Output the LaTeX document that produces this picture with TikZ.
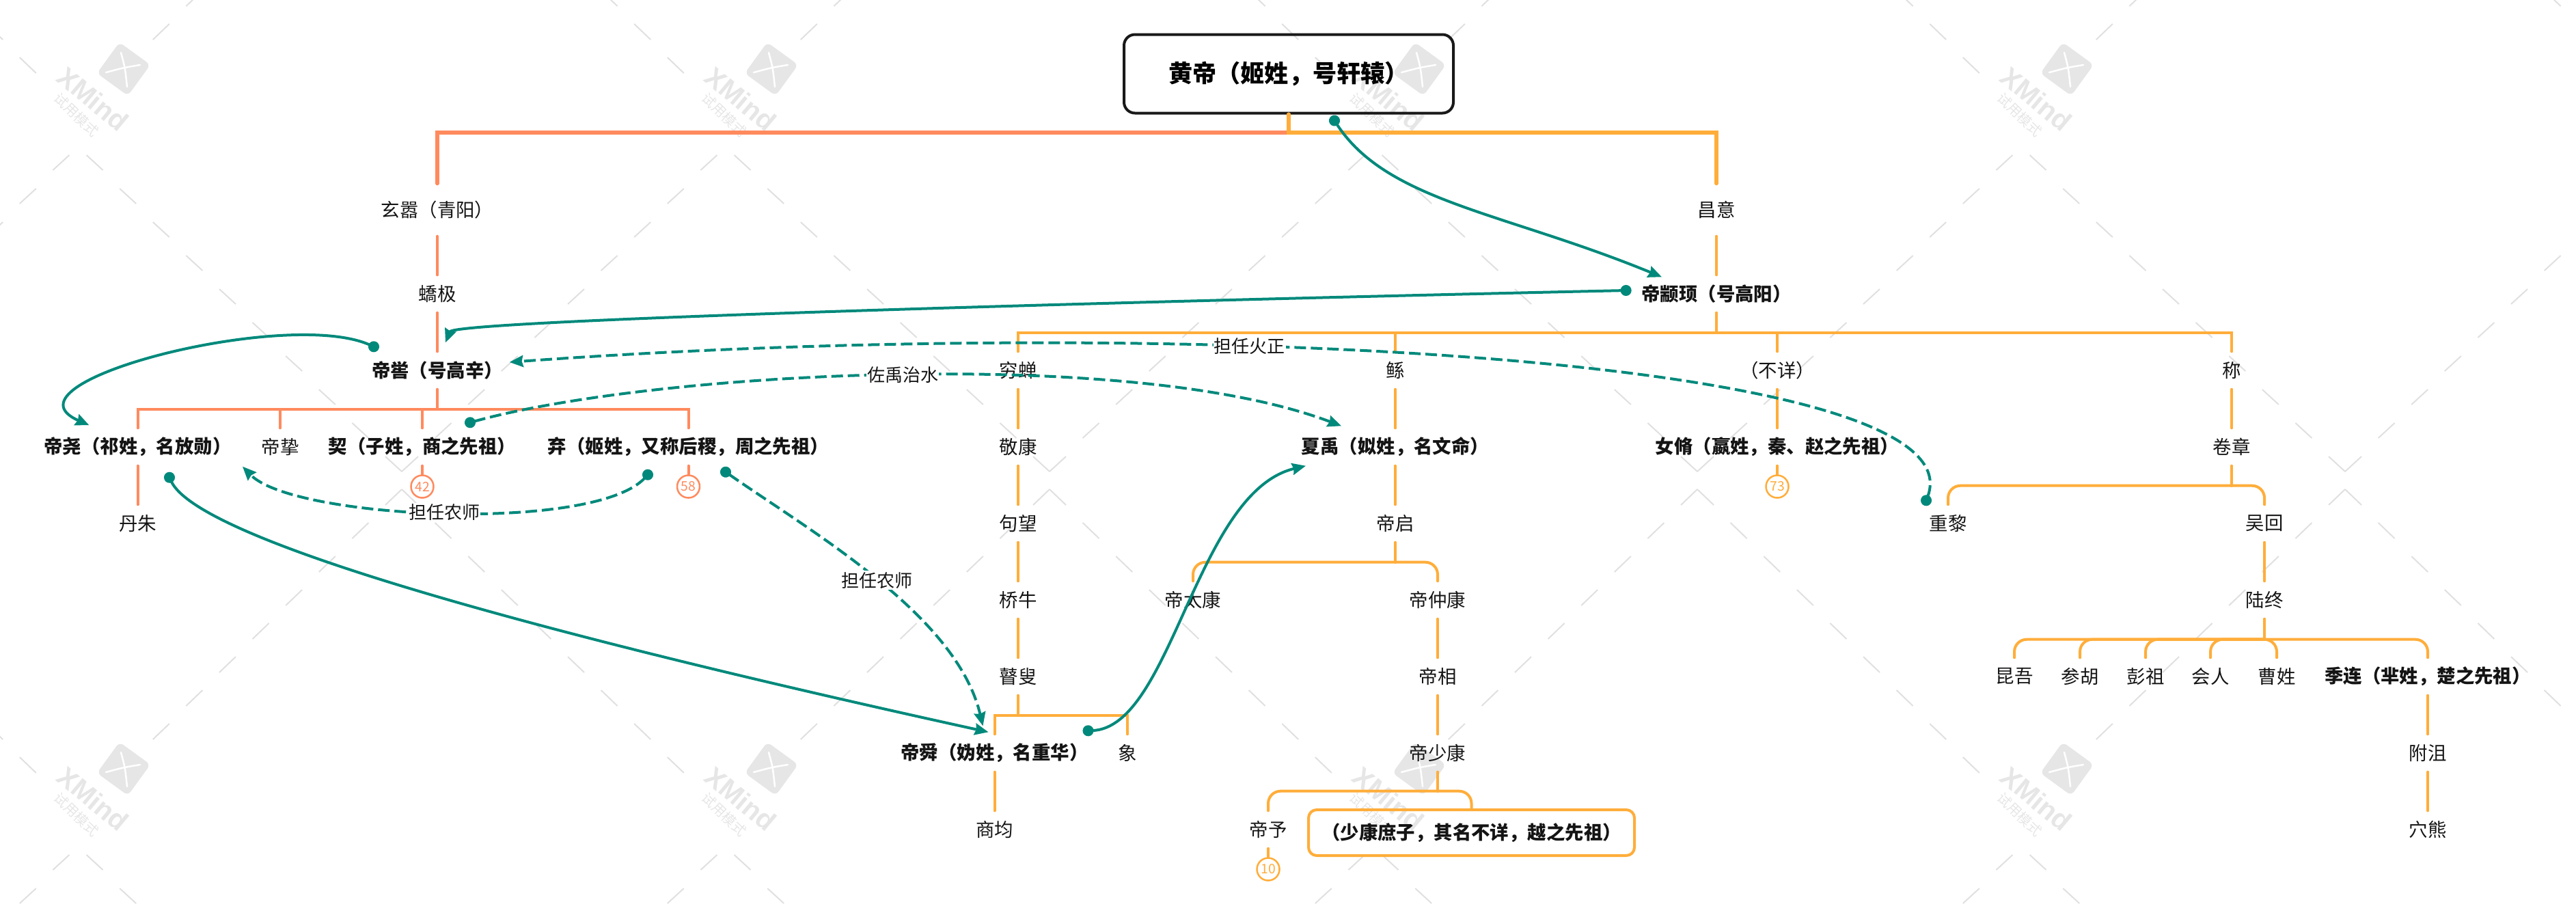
\documentclass[tikz,border=0pt]{standalone}
\usepackage{fontspec}
\setmainfont{Noto Sans CJK SC}
\newfontfamily\wmfont{Liberation Sans}
\usetikzlibrary{arrows.meta}
\definecolor{coralline}{HTML}{FF8A5E}
\definecolor{amberline}{HTML}{FFAD3A}
\definecolor{relteal}{HTML}{00897B}
\definecolor{wmgray}{HTML}{E6E6E6}
\tikzset{
  person/.style={inner sep=0pt, minimum height=.54cm, text=black!92, font=\fontsize{7.8}{9}\selectfont},
  personb/.style={person, font=\fontsize{7.8}{9}\selectfont\bfseries},
  son/.style={person, minimum height=.76cm},
  redline/.style={draw=coralline, line width=.04cm, line cap=round},
  ambline/.style={draw=amberline, line width=.04cm, line cap=round},
  badge/.style={circle, draw, fill=white, line width=.025cm, inner sep=0pt, minimum size=.33cm, font=\fontsize{5.5}{6}\selectfont},
  relline/.style={draw=relteal, line width=.04cm, shorten <=-.08cm, {Circle[length=.16cm]}-{Stealth[length=.2cm, width=.17cm, inset=.02cm]}, relteal},
  reldash/.style={relline, dash pattern=on .17cm off .07cm},
  rellabel/.style={fill=white, inner xsep=.01cm, inner ysep=.02cm, text=black!92, font=\fontsize{7.4}{9}\selectfont},
  wmdash/.style={draw=black!12, line width=.02cm}
}
\begin{document}
\begin{tikzpicture}[node distance=1.12cm]
\useasboundingbox (0,0) rectangle (37.7,-13.38);
% watermark
\begin{scope}
\clip (0,0) rectangle (37.7,-13.38);
\foreach \ox in {-9.48,0,9.48,18.96,28.44}
\foreach \oy in {-10.24,0,10.24} {
  \begin{scope}[shift={(\ox,\oy)}]
  \foreach \k in {0,...,9} {
    \draw[wmdash] ({5.64-\k*.486},{-6.68+\k*.49}) -- ({5.88-\k*.486},{-6.90+\k*.49});
    \draw[wmdash] ({5.88+\k*.486},{-6.90+\k*.49}) -- ({6.12+\k*.486},{-6.68+\k*.49});
  }
  \foreach \k in {0,...,8}
    \draw[wmdash] ({5.88+\k*.486},{-7.16-\k*.49}) -- ({6.12+\k*.486},{-7.39-\k*.49});
  \foreach \k in {0,...,7}
    \draw[wmdash] ({5.88-\k*.486},{-7.16-\k*.49}) -- ({5.64-\k*.486},{-7.39-\k*.49});
  \end{scope}
}
\foreach \i in {1,...,4}
\foreach \j in {1,2} {
  \begin{scope}[shift={({1.81+9.48*(\i-1)},{-1.01-10.24*(\j-1)})}]
  \fill[wmgray, rounded corners=.07cm, rotate=-36] (-.28,-.28) rectangle (.28,.28);
  \draw[white, line width=.025cm, line cap=round] (-.04,.24) .. controls (.02,.02) .. (.05,-.26);
  \draw[white, line width=.025cm, line cap=round] (-.26,-.05) .. controls (0,.02) .. (.24,.06);
  \node[rotate=-40, text=wmgray, font=\wmfont\fontsize{11.4}{12}\selectfont\bfseries] (wmx\i\j) at (-.45,-.44) {XMind};
  \node[rotate=-44, text=wmgray, font=\fontsize{5.7}{6}\selectfont] (wmt\i\j) at (-.69,-.67) {试用模式};
  \end{scope}
}
\end{scope}
% people
\node[draw=black!90, line width=.04cm, rounded corners=.16cm, minimum width=4.82cm, minimum height=1.15cm, inner sep=0pt, font=\fontsize{10}{12}\selectfont\bfseries] (root) at (18.86,-1.08) {黄帝（姬姓，号轩辕）};
\node[son, below of=root, xshift=-12.46cm, yshift=-.87cm] (xuanxiao) {玄嚣（青阳）};
\node[person, below of=xuanxiao, yshift=-.11cm] (jiaoji) {蟜极};
\node[personb, below of=jiaoji] (diku) {帝喾（号高辛）};
\node[personb, below of=diku, xshift=-4.385cm] (diyao) {帝尧（祁姓，名放勋）};
\node[person, below of=diku, xshift=-2.30cm] (dizhi) {帝挚};
\node[personb, below of=diku, xshift=-.22cm] (xie) {契（子姓，商之先祖）};
\node[personb, below of=diku, xshift=3.675cm] (qi) {弃（姬姓，又称后稷，周之先祖）};
\node[person, below of=diyao] (danzhu) {丹朱};
\node[badge, draw=coralline, text=coralline, below of=xie, yshift=.54cm] (bxie) {42};
\node[badge, draw=coralline, text=coralline, below of=qi, yshift=.54cm] (bqi) {58};
\node[son, below of=root, xshift=6.26cm, yshift=-.87cm] (changyi) {昌意};
\node[personb, below of=changyi, yshift=-.11cm] (zhuanxu) {帝颛顼（号高阳）};
\node[person, below of=zhuanxu, xshift=-10.22cm] (qiongchan) {穷蝉};
\node[person, below of=zhuanxu, xshift=-4.70cm] (gun) {鲧};
\node[person, below of=zhuanxu, xshift=.89cm] (buxiang) {（不详）};
\node[person, below of=zhuanxu, xshift=7.54cm] (cheng) {称};
\node[person, below of=qiongchan] (jingkang) {敬康};
\node[person, below of=jingkang] (juwang) {句望};
\node[person, below of=juwang] (qiaoniu) {桥牛};
\node[person, below of=qiaoniu] (gusou) {瞽叟};
\node[personb, below of=gusou, xshift=-.345cm] (dishun) {帝舜（妫姓，名重华）};
\node[person, below of=gusou, xshift=1.60cm] (xiang) {象};
\node[person, below of=dishun] (shangjun) {商均};
\node[personb, below of=gun] (xiayu) {夏禹（姒姓，名文命）};
\node[person, below of=xiayu] (diqi) {帝启};
\node[person, below of=diqi, xshift=-2.96cm] (ditai) {帝太康};
\node[person, below of=diqi, xshift=.62cm] (dizhong) {帝仲康};
\node[person, below of=dizhong] (dixiang) {帝相};
\node[person, below of=dixiang] (dishao) {帝少康};
\node[person, below of=dishao, xshift=-2.48cm] (diyu) {帝予};
\node[personb, draw=amberline, line width=.04cm, rounded corners=.12cm, minimum width=4.77cm, minimum height=.67cm, below of=dishao, xshift=.495cm, yshift=-.045cm] (shukang) {（少康庶子，其名不详，越之先祖）};
\node[badge, draw=amberline, text=amberline, below of=diyu, yshift=.54cm] (bdiyu) {10};
\node[personb, below of=buxiang] (nvxiu) {女脩（嬴姓，秦、赵之先祖）};
\node[badge, draw=amberline, text=amberline, below of=nvxiu, yshift=.54cm] (bnvxiu) {73};
\node[person, below of=cheng] (juanzhang) {卷章};
\node[person, below of=juanzhang, xshift=-4.15cm] (chongli) {重黎};
\node[person, below of=juanzhang, xshift=.48cm] (wuhui) {吴回};
\node[person, below of=wuhui] (luzhong) {陆终};
\node[person, below of=luzhong, xshift=-3.66cm] (kunwu) {昆吾};
\node[person, below of=luzhong, xshift=-2.70cm] (canhu) {参胡};
\node[person, below of=luzhong, xshift=-1.74cm] (pengzu) {彭祖};
\node[person, below of=luzhong, xshift=-.79cm] (huiren) {会人};
\node[person, below of=luzhong, xshift=.18cm] (caoxing) {曹姓};
\node[personb, below of=luzhong, xshift=2.39cm] (jilian) {季连（芈姓，楚之先祖）};
\node[person, below of=jilian] (fuju) {附沮};
\node[person, below of=fuju] (xuexiong) {穴熊};
% lines
\draw[redline, line width=.06cm] (root.south) -- ++(0,-.26) coordinate (rootbar) -| (xuanxiao.north);
\draw[ambline, line width=.06cm] (root.south) -- (rootbar) -| (changyi.north);
\draw[redline] (xuanxiao) -- (jiaoji);
\draw[redline] (jiaoji) -- (diku);
\draw[redline] (diku.south) -- ++(0,-.29) coordinate (kubar);
\foreach \c in {diyao,dizhi,xie,qi}
  \draw[redline] (kubar) -| (\c.north);
\draw[redline] (diyao) -- (danzhu);
\draw[redline] (xie) -- (bxie);
\draw[redline] (qi) -- (bqi);
\draw[ambline] (changyi) -- (zhuanxu);
\draw[ambline] (zhuanxu.south) -- ++(0,-.29) coordinate (xubar);
\foreach \c in {qiongchan,gun,buxiang,cheng}
  \draw[ambline] (xubar) -| (\c.north);
\draw[ambline] (qiongchan) -- (jingkang);
\draw[ambline] (jingkang) -- (juwang);
\draw[ambline] (juwang) -- (qiaoniu);
\draw[ambline] (qiaoniu) -- (gusou);
\draw[ambline] (gusou.south) -- ++(0,-.29) coordinate (soubar);
\foreach \c in {dishun,xiang}
  \draw[ambline] (soubar) -| (\c.north);
\draw[ambline] (dishun) -- (shangjun);
\draw[ambline] (gun) -- (xiayu);
\draw[ambline] (xiayu) -- (diqi);
\draw[ambline] (diqi.south) -- ++(0,-.29) coordinate (qibar);
\foreach \c in {ditai,dizhong}
  \draw[ambline, rounded corners=.18cm] (qibar) -| (\c.north);
\draw[ambline] (dizhong) -- (dixiang);
\draw[ambline] (dixiang) -- (dishao);
\draw[ambline] (dishao.south) -- ++(0,-.28) coordinate (shaobar);
\foreach \c in {diyu,shukang}
  \draw[ambline, rounded corners=.18cm] (shaobar) -| (\c.north);
\draw[ambline] (diyu) -- (bdiyu);
\draw[ambline] (buxiang) -- (nvxiu);
\draw[ambline] (nvxiu) -- (bnvxiu);
\draw[ambline] (cheng) -- (juanzhang);
\draw[ambline] (juanzhang.south) -- ++(0,-.29) coordinate (zhangbar);
\foreach \c in {chongli,wuhui}
  \draw[ambline, rounded corners=.18cm] (zhangbar) -| (\c.north);
\draw[ambline] (wuhui) -- (luzhong);
\draw[ambline] (luzhong.south) -- ++(0,-.30) coordinate (zhongbar);
\foreach \c in {kunwu,canhu,pengzu,huiren,caoxing,jilian}
  \draw[ambline, rounded corners=.18cm] (zhongbar) -| (\c.north);
\draw[ambline] (jilian) -- (fuju);
\draw[ambline] (fuju) -- (xuexiong);
% relations
\draw[relline] ([shift={(.67,-.09)}]root.south) .. controls (20.30,-2.95) and (22.00,-3.10) .. ([shift={(-.80,-.03)}]zhuanxu.north);
\draw[relline] ([shift={(-.22,.05)}]zhuanxu.west) .. controls (17.00,-4.40) and (6.65,-4.68) .. ([shift={(.12,.13)}]diku.north);
\draw[relline] ([shift={(-.93,.07)}]diku.north) .. controls (4.20,-4.50) and (-.10,-5.60) .. ([shift={(-.71,.04)}]diyao.north);
\draw[relline] ([shift={(.465,-.17)}]diyao.south) .. controls (2.90,-7.90) and (7.80,-9.25) .. ([shift={(-.09,.03)}]dishun.north);
\draw[reldash] ([shift={(.545,-.09)}]qi.south) .. controls (11.90,-7.80) and (14.00,-9.00) .. node[rellabel, pos=.5] (nongshia) {担任农师} ([shift={(-.17,.12)}]dishun.north);
\draw[reldash] ([shift={(-.595,-.13)}]qi.south) .. controls (8.70,-7.80) and (4.30,-7.60) .. node[rellabel, pos=.5] (nongshib) {担任农师} ([shift={(-.55,-.01)}]dizhi.south);
\draw[reldash] ([shift={(.70,.08)}]xie.north) .. controls (9.50,-5.45) and (16.50,-5.05) .. node[rellabel, pos=.51] (zhishui) {佐禹治水} ([shift={(-.79,.03)}]xiayu.north);
\draw[reldash] ([shift={(-.32,.06)}]chongli.north) .. controls (29.00,-5.20) and (17.00,-4.60) .. node[rellabel, pos=.63] (huozheng) {担任火正} ([shift={(.09,.12)}]diku.east);
\draw[relline] ([shift={(1.37,.05)}]dishun.north) .. controls (17.15,-10.65) and (17.50,-7.20) .. ([shift={(-1.31,0)}]xiayu.south);
\end{tikzpicture}
\end{document}
